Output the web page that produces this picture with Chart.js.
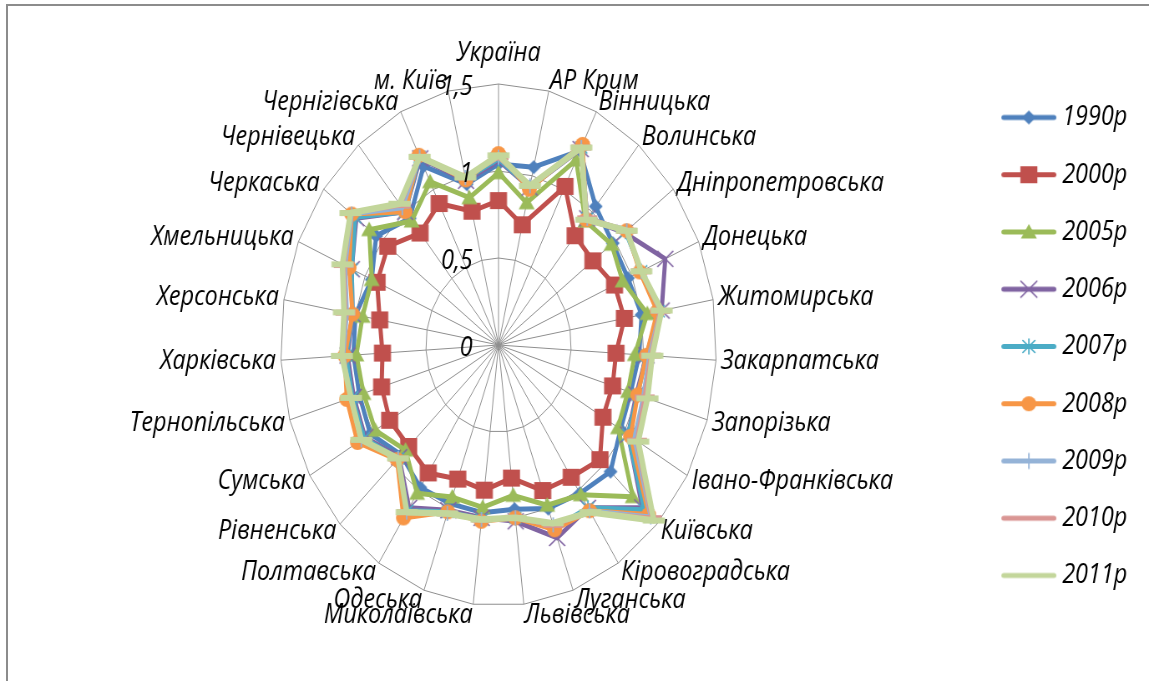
<!DOCTYPE html>
<html>
<head>
<meta charset="utf-8">
<script src="https://cdn.jsdelivr.net/npm/chart.js@4.4.1/dist/chart.umd.min.js"></script>
<style>
  html, body { margin: 0; padding: 0; background: #fff; overflow: hidden; }
  #frame {
    position: absolute; left: 6px; top: 4px; width: 1200px; height: 700px;
    border-top: 2px solid #8c8c8c; border-left: 2px solid #8c8c8c;
  }
  #wrap {
    position: absolute; left: 0; top: 0; width: 1400px; height: 681px;
    transform: scaleX(0.835); transform-origin: 0 0;
  }
</style>
</head>
<body>
<div id="frame"></div>
<div id="wrap"><canvas id="chart" width="1400" height="681"></canvas></div>
<script>
// the whole chart is squeezed horizontally, the plot is an ellipse
const SX = 0.835;
const CX = 597, CY = 345, RADIUS = 261;
const FONT = '"Open Sans", "DejaVu Sans", sans-serif';
const FONT_SIZE = 28;

const regions = [
  'Україна', 'АР Крим', 'Вінницька', 'Волинська', 'Дніпропетровська', 'Донецька',
  'Житомирська', 'Закарпатська', 'Запорізька', 'Івано-Франківська', 'Київська',
  'Кіровоградська', 'Луганська', 'Львівська', 'Миколаївська', 'Одеська', 'Полтавська',
  'Рівненська', 'Сумська', 'Тернопільська', 'Харківська', 'Херсонська', 'Хмельницька',
  'Черкаська', 'Чернівецька', 'Чернігівська', 'м. Київ'
];

const years = ['1990р', '2000р', '2005р', '2006р', '2007р', '2008р', '2009р', '2010р', '2011р'];

const v1990 = [1.04, 1.05, 1.25, 1.04, 0.98, 0.97, 1.00, 0.97, 0.95, 0.97, 1.06, 1.02, 1.00, 0.95,
               0.97, 0.97, 0.98, 0.92, 1.02, 1.00, 1.00, 1.00, 0.95, 1.05, 0.95, 1.15, 0.95];
const v2000 = [0.83, 0.71, 1.02, 0.82, 0.81, 0.87, 0.88, 0.81, 0.82, 0.83, 0.96, 0.91, 0.89, 0.77,
               0.84, 0.82, 0.88, 0.85, 0.865, 0.84, 0.80, 0.83, 0.91, 0.95, 0.84, 0.91, 0.79];
const v2005 = [0.99, 0.84, 1.19, 0.93, 0.97, 0.93, 1.04, 0.94, 0.93, 0.95, 1.27, 1.03, 0.98, 0.87,
               0.94, 0.93, 1.02, 0.88, 0.98, 0.97, 0.98, 0.95, 0.95, 1.11, 0.93, 1.05, 0.87];
const v2006 = [1.06, 0.93, 1.26, 0.95, 1.08, 1.25, 1.14, 1.02, 0.99, 1.03, 1.36, 1.12, 1.18, 1.02,
               1.00, 1.01, 1.12, 0.94, 1.06, 1.04, 1.04, 1.02, 1.10, 1.22, 1.00, 1.20, 0.97];
const v2007 = [1.07, 0.93, 1.27, 0.95, 1.09, 1.07, 1.12, 1.02, 1.00, 1.03, 1.38, 1.12, 1.12, 1.00,
               1.01, 1.02, 1.14, 0.95, 1.07, 1.05, 1.05, 1.02, 1.10, 1.23, 1.00, 1.21, 0.98];
const v2008 = [1.10, 0.92, 1.29, 0.94, 1.10, 1.06, 1.11, 1.02, 1.00, 1.05, 1.42, 1.14, 1.13, 1.00,
               1.02, 1.02, 1.19, 0.96, 1.12, 1.09, 1.06, 1.02, 1.12, 1.26, 1.00, 1.22, 0.975];
const v2009 = [1.08, 0.94, 1.27, 0.95, 1.10, 1.07, 1.13, 1.04, 1.04, 1.08, 1.44, 1.14, 1.10, 1.00,
               1.01, 1.03, 1.15, 0.95, 1.09, 1.06, 1.07, 1.06, 1.15, 1.26, 1.03, 1.21, 0.99];
const v2010 = [1.08, 0.94, 1.27, 0.95, 1.10, 1.07, 1.13, 1.05, 1.05, 1.10, 1.45, 1.15, 1.10, 1.00,
               1.01, 1.03, 1.15, 0.95, 1.09, 1.06, 1.08, 1.07, 1.16, 1.27, 1.05, 1.21, 0.99];
const v2011 = [1.09, 0.94, 1.27, 0.94, 1.10, 1.07, 1.14, 1.06, 1.07, 1.11, 1.47, 1.15, 1.09, 1.00,
               1.01, 1.03, 1.15, 0.95, 1.09, 1.06, 1.08, 1.08, 1.17, 1.27, 1.06, 1.21, 0.99];

const tickValues = [0, 0.5, 1, 1.5];
const tickLabels = ['0', '0,5', '1', '1,5'];

const seriesValues = [v1990, v2000, v2005, v2006, v2007, v2008, v2009, v2010, v2011];
const colors = ['#4f81bd', '#c0504d', '#9bbb59', '#8064a2', '#4bacc6', '#f79646', '#95b3d7', '#da9694', '#c3d69b'];
const markerKinds = ['diamond', 'square', 'triangle', 'cross', 'star', 'circle', 'plus', 'dash', 'dash'];
const markerSizes = [14, 17, 16, 16, 15, 15, 15, 20, 22];

// marker bitmaps are pre-stretched so they look right after the squeeze
function makeMarker(kind, color, size, lineLen) {
  const w = Math.ceil(Math.max(size, lineLen || 0) / SX) + 6;
  const h = Math.ceil(size) + 6;
  const c = document.createElement('canvas');
  c.width = w; c.height = h;
  const g = c.getContext('2d');
  g.translate(w / 2, h / 2);
  g.scale(1 / SX, 1);
  g.fillStyle = color;
  g.strokeStyle = color;
  if (lineLen) {
    g.lineWidth = 5; g.lineCap = 'round';
    g.beginPath(); g.moveTo(-lineLen / 2 + 2.5, 0); g.lineTo(lineLen / 2 - 2.5, 0); g.stroke();
  }
  const r = size / 2;
  g.lineWidth = 1.5;
  g.beginPath();
  switch (kind) {
    case 'diamond':
      g.moveTo(0, -r); g.lineTo(r, 0); g.lineTo(0, r); g.lineTo(-r, 0); g.closePath(); g.fill(); break;
    case 'square':
      g.fillRect(-r, -r, 2 * r, 2 * r); break;
    case 'triangle':
      g.moveTo(0, -r); g.lineTo(r, r * 0.8); g.lineTo(-r, r * 0.8); g.closePath(); g.fill(); break;
    case 'cross':
      g.moveTo(-r, -r); g.lineTo(r, r); g.moveTo(r, -r); g.lineTo(-r, r); g.stroke(); break;
    case 'star':
      g.moveTo(-r * 0.8, -r * 0.8); g.lineTo(r * 0.8, r * 0.8);
      g.moveTo(r * 0.8, -r * 0.8); g.lineTo(-r * 0.8, r * 0.8);
      g.moveTo(0, -r); g.lineTo(0, r); g.stroke(); break;
    case 'circle':
      g.arc(0, 0, r, 0, Math.PI * 2); g.fill(); break;
    case 'plus':
      g.moveTo(-r, 0); g.lineTo(r, 0); g.moveTo(0, -r); g.lineTo(0, r); g.stroke(); break;
    case 'dash':
      g.fillRect(-r, -3, 2 * r, 6); break;
  }
  return c;
}

const pointImages = seriesValues.map((_, i) => makeMarker(markerKinds[i], colors[i], markerSizes[i]));
const legendImages = seriesValues.map((_, i) =>
  makeMarker(markerKinds[i] === 'dash' ? 'none' : markerKinds[i], colors[i], markerSizes[i], 55));

// value-axis numbers sit to the left of the vertical spoke, above the series
const tickLabelPlugin = {
  id: 'tickLabelPlugin',
  afterDatasetsDraw(chart) {
    const s = chart.scales.r;
    const g = chart.ctx;
    g.save();
    g.font = 'italic ' + FONT_SIZE + 'px ' + FONT;
    g.fillStyle = '#000';
    g.textAlign = 'right';
    g.textBaseline = 'middle';
    tickValues.forEach((v, i) => {
      const d = s.getDistanceFromCenterForValue(v);
      g.fillText(tickLabels[i], s.xCenter - 31, s.yCenter - d + 3);
    });
    g.restore();
  }
};

const n = regions.length;
const labelLineHeight = i => 8 * Math.abs(Math.cos(2 * Math.PI * i / n)) + 1;

Chart.defaults.font.family = FONT;
Chart.defaults.color = '#000';

new Chart(document.getElementById('chart'), {
  type: 'radar',
  data: {
    labels: regions,
    datasets: seriesValues.map((data, i) => ({
      label: years[i],
      data: data,
      borderColor: colors[i],
      backgroundColor: colors[i],
      borderWidth: i === 8 ? 6.5 : 5,
      borderJoinStyle: 'round',
      fill: false,
      pointStyle: pointImages[i],
      pointRadius: 6,
      pointHoverRadius: 6,
      order: seriesValues.length - 1 - i
    }))
  },
  options: {
    responsive: false,
    animation: false,
    events: [],
    layout: { padding: { top: 12, right: 40, bottom: 0, left: 0 } },
    scales: {
      r: {
        min: tickValues[0],
        max: tickValues[tickValues.length - 1],
        ticks: { stepSize: 0.5, display: false },
        grid: { color: '#8e8e8e', lineWidth: 1 },
        angleLines: { color: '#8e8e8e', lineWidth: 1 },
        pointLabels: {
          color: '#000',
          padding: c => (c.index === 0 ? 26 : 6),
          font: c => ({ family: FONT, size: FONT_SIZE, style: 'italic', lineHeight: labelLineHeight(c.index) + 'px' })
        },
        afterSetDimensions: s => {
          s.xCenter = CX;
          s.yCenter = CY;
          s.drawingArea = RADIUS;
        }
      }
    },
    plugins: {
      tooltip: { enabled: false },
      legend: {
        position: 'right',
        align: 'center',
        labels: {
          usePointStyle: true,
          pointStyleWidth: 52,
          padding: 29.25,
          color: '#000',
          font: { family: FONT, size: FONT_SIZE, style: 'italic' },
          generateLabels: chart => chart.data.datasets.map((ds, i) => ({
            text: ds.label,
            fillStyle: colors[i],
            strokeStyle: colors[i],
            lineWidth: 0,
            pointStyle: legendImages[i],
            hidden: false,
            datasetIndex: i
          }))
        }
      }
    }
  },
  plugins: [tickLabelPlugin]
});
</script>
</body>
</html>
